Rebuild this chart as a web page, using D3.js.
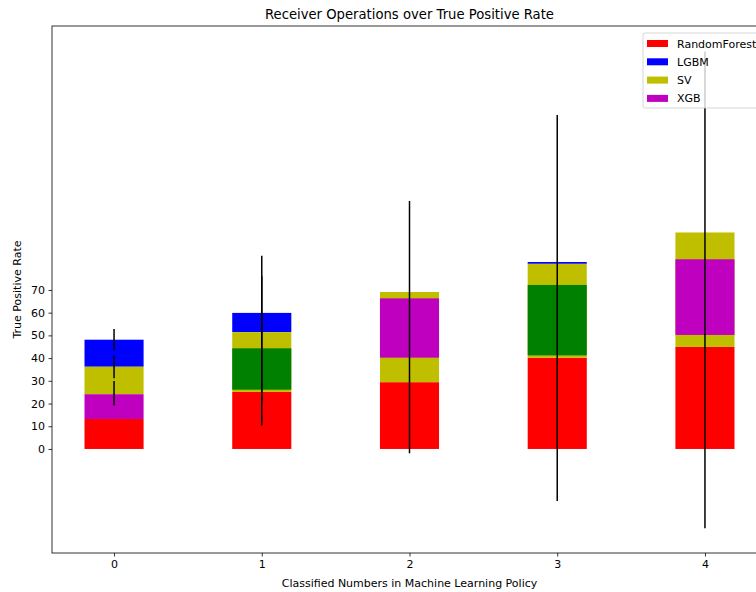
<!DOCTYPE html>
<html>
<head>
<meta charset="utf-8">
<script src="https://cdn.jsdelivr.net/npm/d3@7"></script>
<style>
	body { margin: 0; background: #fff; }
	svg { font-family: "DejaVu Sans", sans-serif; }
</style>
</head>
<body>
<div class="chart"></div>
<script>
// categories on the x axis
const categories = [0, 1, 2, 3, 4];
const yTicks = [0, 10, 20, 30, 40, 50, 60, 70];

// visible bar segments (bottom / top) for each series, null = not visible
const rfLow   = [0, 0, 0, 0, 0];
const rfHigh  = [13.2, 25.1, 29.4, 40.2, 44.9];
const lgbmLow  = [36.2, 51.4, null, 81.5, null];
const lgbmHigh = [48.1, 59.9, null, 82.3, null];
const svLow   = [24.1, 25.1, 29.4, 40.2, 44.9];
const svHigh  = [36.2, 51.4, 69.1, 81.5, 95.3];
const xgbLow  = [13.2, null, 40.2, null, 50.2];
const xgbHigh = [24.1, null, 66.3, null, 83.5];
const gLow    = [null, 26.1, null, 41.2, null];
const gHigh   = [null, 44.3, null, 72.2, null];

// error bars
const errCat  = [0, 0, 0, 1, 1, 2, 3, 4];
const errLow  = [43.3, 31.1, 19.1, 10.3, 20.0, -1.9, -22.9, -34.9];
const errHigh = [52.8, 41.1, 29.9, 85.1, 76.0, 109.2, 147.0, 175.0];

const legendLabels = ['RandomForest', 'LGBM', 'SV', 'XGB'];

const series = [
	{ low: rfLow, high: rfHigh, color: '#ff0000' },
	{ low: lgbmLow, high: lgbmHigh, color: '#0000ff' },
	{ low: svLow, high: svHigh, color: '#bfbf00' },
	{ low: xgbLow, high: xgbHigh, color: '#bf00bf' },
	{ low: gLow, high: gHigh, color: '#008000' }
];
const legendColors = ['#ff0000', '#0000ff', '#bfbf00', '#bf00bf'];

const width = 756;
const height = 592;
const mLeft = 52, mRight = 767, mTop = 26, mBottom = 553;

const svg = d3.select('.chart')
	.append('svg')
	.attr('width', width)
	.attr('height', height);

const x = d3.scaleLinear().domain([-0.42, 4.42]).range([mLeft, mRight]);
const y = d3.scaleLinear().domain([-45.8, 186.2]).range([mBottom, mTop]);
const barW = x(0.4) - x(0);

series.forEach(function (s) {
	const rows = categories.map((c, i) => ({ c: c, lo: s.low[i], hi: s.high[i] }))
		.filter(d => d.lo !== null);
	svg.selectAll(null)
		.data(rows)
		.enter()
		.append('rect')
		.attr('x', d => x(d.c) - barW / 2)
		.attr('width', barW)
		.attr('y', d => y(d.hi))
		.attr('height', d => y(d.lo) - y(d.hi))
		.style('fill', s.color);
});

// error bars
svg.selectAll('.err')
	.data(errCat.map((c, i) => ({ c: c, lo: errLow[i], hi: errHigh[i] })))
	.enter()
	.append('line')
	.attr('class', 'err')
	.attr('x1', d => x(d.c))
	.attr('x2', d => x(d.c))
	.attr('y1', d => y(d.lo))
	.attr('y2', d => y(d.hi))
	.attr('stroke', '#000')
	.attr('stroke-width', 1.5);

// axes
const yAxis = svg.append('g')
	.attr('transform', 'translate(' + mLeft + ',0)')
	.call(d3.axisLeft(y).tickValues(yTicks).tickSize(3.5).tickPadding(3.5));
const xAxis = svg.append('g')
	.attr('transform', 'translate(0,' + mBottom + ')')
	.call(d3.axisBottom(x).tickValues(categories).tickSize(3.5).tickPadding(3.5).tickFormat(d3.format('d')));
[yAxis, xAxis].forEach(function (a) {
	a.select('.domain').remove();
	a.selectAll('text').attr('font-size', '11px').attr('fill', '#000')
		.attr('font-family', '"DejaVu Sans", sans-serif');
	a.selectAll('line').attr('stroke', '#000').attr('stroke-width', 0.8);
});

svg.append('rect')
	.attr('x', mLeft)
	.attr('y', mTop)
	.attr('width', mRight - mLeft)
	.attr('height', mBottom - mTop)
	.attr('fill', 'none')
	.attr('stroke', '#000')
	.attr('stroke-width', 0.8);

// title and labels
svg.append('text')
	.attr('x', (mLeft + mRight) / 2)
	.attr('y', 19)
	.attr('text-anchor', 'middle')
	.attr('font-size', '13.2px')
	.text('Receiver Operations over True Positive Rate');
svg.append('text')
	.attr('x', (mLeft + mRight) / 2)
	.attr('y', 587)
	.attr('text-anchor', 'middle')
	.attr('font-size', '11px')
	.text('Classified Numbers in Machine Learning Policy');
svg.append('text')
	.attr('transform', 'translate(21,' + (mTop + mBottom) / 2 + ') rotate(-90)')
	.attr('text-anchor', 'middle')
	.attr('font-size', '11px')
	.text('True Positive Rate');

// legend
const legend = svg.append('g').attr('transform', 'translate(643,33)');
legend.append('rect')
	.attr('width', 130)
	.attr('height', 75)
	.attr('rx', 2)
	.attr('fill', '#fff')
	.attr('fill-opacity', 0.8)
	.attr('stroke', '#ccc')
	.attr('stroke-width', 0.8);
const items = legend.selectAll('.item')
	.data(legendLabels)
	.enter()
	.append('g')
	.attr('class', 'item')
	.attr('transform', (d, i) => 'translate(0,' + (i * 18.3) + ')');
items.append('rect')
	.attr('x', 4)
	.attr('y', 7)
	.attr('width', 21)
	.attr('height', 7)
	.attr('fill', (d, i) => legendColors[i]);
items.append('text')
	.attr('x', 34)
	.attr('y', 14.5)
	.attr('font-size', '11px')
	.text(d => d);
</script>
</body>
</html>
